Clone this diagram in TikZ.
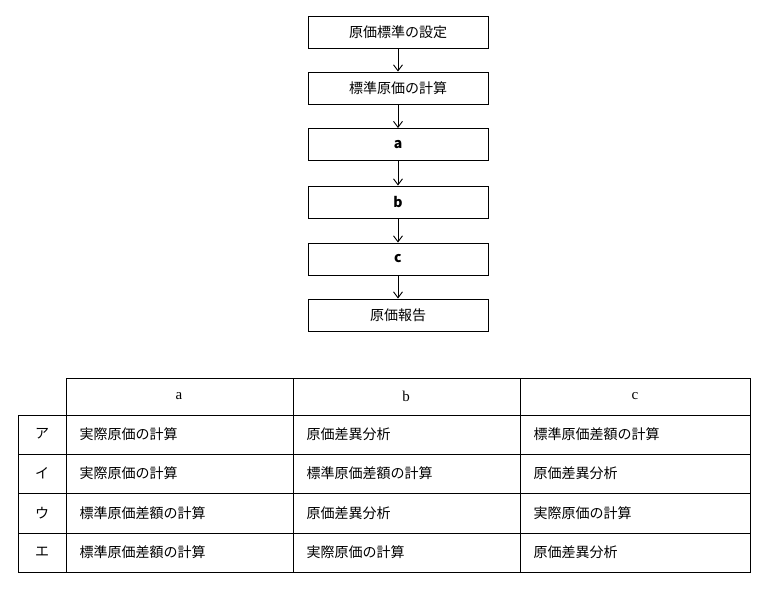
\documentclass[tikz,border=0pt]{standalone}
\usepackage{fontspec}
\setmainfont{Liberation Serif}
\newfontfamily\jp{Noto Sans CJK JP}
\usetikzlibrary{arrows.meta}
\begin{document}
\begin{tikzpicture}[x=1pt,y=-1pt,
  box/.style={draw,line width=0.9pt,minimum width=180pt,minimum height=32pt,inner sep=0pt,font=\jp\fontsize{14}{16}\selectfont},
  arr/.style={-{Straight Barb[length=6pt,width=9pt]},line width=0.9pt},
  cell/.style={anchor=west,font=\jp\fontsize{14}{16}\selectfont},
  tl/.style={line width=0.9pt}]
\useasboundingbox (0,0) rectangle (766,590);
\node[box] (b1) at (398,32) {原価標準の設定};
\node[box] (b2) at (398,88) {標準原価の計算};
\node[box] (b3) at (398,144.5) {\fontsize{14}{16}\selectfont\bfseries a};
\node[box] (b4) at (398,202) {\fontsize{14}{16}\selectfont\bfseries b};
\node[box] (b5) at (398,259) {\fontsize{14}{16}\selectfont\bfseries c};
\node[box] (b6) at (398,315) {原価報告};
\draw[arr] (b1) -- (b2);
\draw[arr] (b2) -- (b3);
\draw[arr] (b3) -- (b4);
\draw[arr] (b4) -- (b5);
\draw[arr] (b5) -- (b6);
% table
\draw[tl] (66,378) rectangle (750,572);
\draw[tl] (18,415) rectangle (750,572);
\foreach \y in {454,493,533} \draw[tl] (18,\y) -- (750,\y);
\foreach \x in {293,520} \draw[tl] (\x,378) -- (\x,572);
\node[font=\fontsize{15}{17}\selectfont] (ha) at (179,396) {a};
\node[font=\fontsize{15}{17}\selectfont] (hb) at (406,396) {b};
\node[font=\fontsize{15}{17}\selectfont] (hc) at (635,396) {c};
\node[cell,anchor=center] (k1) at (42,434) {ア};
\node[cell,anchor=center] (k2) at (42,473) {イ};
\node[cell,anchor=center] (k3) at (42,513) {ウ};
\node[cell,anchor=center] (k4) at (42,552) {エ};
\node[cell] (a1) at (76,434) {実際原価の計算};
\node[cell] (a2) at (76,473) {実際原価の計算};
\node[cell] (a3) at (76,513) {標準原価差額の計算};
\node[cell] (a4) at (76,552) {標準原価差額の計算};
\node[cell] (c1) at (303,434) {原価差異分析};
\node[cell] (c2) at (303,473) {標準原価差額の計算};
\node[cell] (c3) at (303,513) {原価差異分析};
\node[cell] (c4) at (303,552) {実際原価の計算};
\node[cell] (d1) at (530,434) {標準原価差額の計算};
\node[cell] (d2) at (530,473) {原価差異分析};
\node[cell] (d3) at (530,513) {実際原価の計算};
\node[cell] (d4) at (530,552) {原価差異分析};
\end{tikzpicture}
\end{document}
